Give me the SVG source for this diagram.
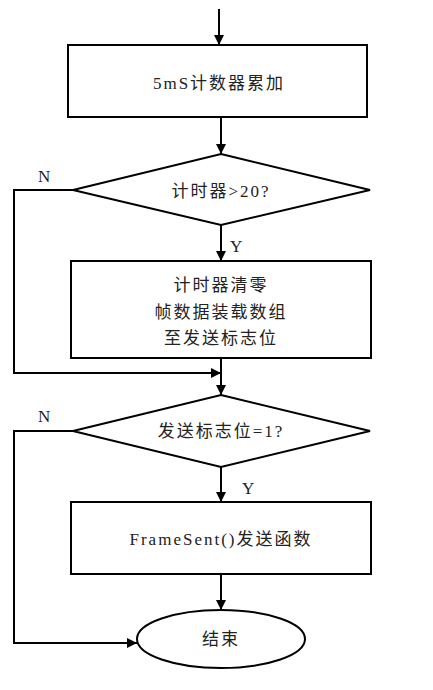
<svg xmlns="http://www.w3.org/2000/svg" width="433" height="690" viewBox="0 0 433 690">
<style>
.s{fill:#fff;stroke:#000;stroke-width:2}
.c{fill:none;stroke:#000;stroke-width:2}
text{font-family:"Liberation Serif","Noto Sans CJK SC",serif;font-size:17px;fill:#222}
.m{text-anchor:middle;letter-spacing:2px}
</style>
<defs>
<marker id="a" markerWidth="10" markerHeight="10" refX="10" refY="5" orient="auto" markerUnits="userSpaceOnUse">
<path d="M0,0 L10,5 L0,10 Z" fill="#000"/>
</marker>
</defs>
<rect width="433" height="690" fill="#fff"/>
<g id="connectors">
<path class="c" d="M219,9 V45" marker-end="url(#a)"/>
<path class="c" d="M221,117 V154" marker-end="url(#a)"/>
<path class="c" d="M221,225 V261" marker-end="url(#a)"/>
<path class="c" d="M73,190 H14 V373 H221" marker-end="url(#a)"/>
<path class="c" d="M221,358 V395" marker-end="url(#a)"/>
<path class="c" d="M221,467 V502" marker-end="url(#a)"/>
<path class="c" d="M73,431 H14 V643 H137" marker-end="url(#a)"/>
<path class="c" d="M221,574 V610" marker-end="url(#a)"/>
<text x="38" y="182">N</text>
<text x="230" y="252">Y</text>
<text x="38" y="422">N</text>
<text x="242" y="494">Y</text>
</g>
<g id="n1">
<rect class="s" x="68" y="45" width="299" height="72"/>
<text class="m" x="219" y="89">5mS计数器累加</text>
</g>
<g id="n2">
<polygon class="s" points="221,154 370,190 221,225 73,190"/>
<text class="m" x="221" y="197">计时器&gt;20?</text>
</g>
<g id="n3">
<rect class="s" x="71" y="261" width="300" height="97"/>
<text class="m" x="221" y="291">计时器清零</text>
<text class="m" x="221" y="318">帧数据装载数组</text>
<text class="m" x="221" y="344">至发送标志位</text>
</g>
<g id="n4">
<polygon class="s" points="221,395 370,431 221,467 73,431"/>
<text class="m" x="221" y="437">发送标志位=1?</text>
</g>
<g id="n5">
<rect class="s" x="71" y="502" width="300" height="72"/>
<text class="m" x="221" y="545">FrameSent()发送函数</text>
</g>
<g id="n6">
<ellipse class="s" cx="221" cy="639" rx="84" ry="29"/>
<text class="m" x="221" y="645">结束</text>
</g>
</svg>
